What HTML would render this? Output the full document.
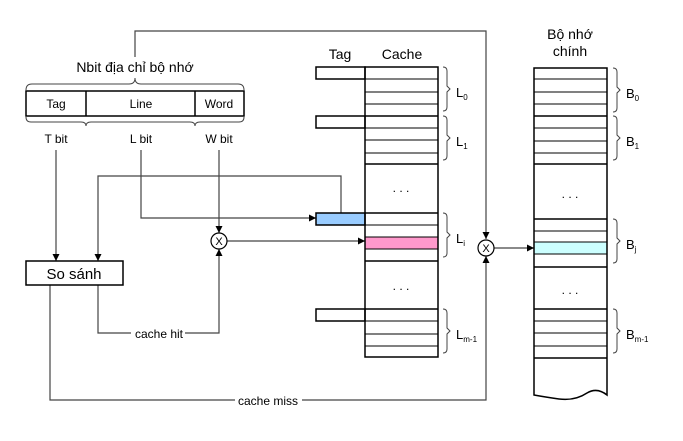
<!DOCTYPE html>
<html><head><meta charset="utf-8"><style>body{margin:0;background:#fff}svg{display:block}</style></head><body>
<svg width="683" height="441" viewBox="0 0 683 441" xmlns="http://www.w3.org/2000/svg" font-family="Liberation Sans, sans-serif">
<defs><marker id="a" viewBox="0 0 10 10" refX="10" refY="5" markerWidth="7" markerHeight="7" orient="auto-start-reverse" markerUnits="userSpaceOnUse"><path d="M0,0L10,5L0,10z" fill="#000"/></marker></defs>
<g fill="none" stroke="#444" stroke-width="1.2">
<polyline points="135,57 135,31 486,31 486,239" marker-end="url(#a)"/>
<line x1="56" y1="150" x2="56" y2="261" marker-end="url(#a)"/>
<polyline points="341,213 341,176 98,176 98,261" marker-end="url(#a)"/>
<polyline points="141,150 141,218 316,218" marker-end="url(#a)"/>
<line x1="219" y1="150" x2="219" y2="233" marker-end="url(#a)"/>
<line x1="227" y1="241" x2="365" y2="241" marker-end="url(#a)"/>
<polyline points="98,285 98,333 219,333 219,249" marker-end="url(#a)"/>
<polyline points="50,285 50,400 486,400 486,256" marker-end="url(#a)"/>
<line x1="494" y1="248" x2="534" y2="248" marker-end="url(#a)"/>
</g>
<rect x="131" y="326" width="54" height="14" fill="#fff"/>
<text x="159" y="338" font-size="12" text-anchor="middle">cache hit</text>
<rect x="235" y="393" width="67" height="14" fill="#fff"/>
<text x="268" y="405" font-size="12" text-anchor="middle">cache miss</text>
<g fill="#fff" stroke="#000" stroke-width="1.2">
<circle cx="219" cy="241" r="8"/><circle cx="486" cy="248" r="8"/>
</g>
<text x="219" y="245" font-size="11" text-anchor="middle">X</text>
<text x="486" y="252" font-size="11" text-anchor="middle">X</text>
<text x="135" y="72" font-size="14" text-anchor="middle">Nbit địa chỉ bộ nhớ</text>
<rect x="26" y="91" width="218" height="25" fill="#fff" stroke="#000" stroke-width="1.5"/>
<g stroke="#000" stroke-width="1.5"><line x1="86" y1="91" x2="86" y2="116"/><line x1="195" y1="91" x2="195" y2="116"/></g>
<g font-size="12" text-anchor="middle"><text x="56" y="108">Tag</text><text x="141" y="108">Line</text><text x="219" y="108">Word</text>
<text x="56" y="143">T bit</text><text x="141" y="143">L bit</text><text x="219" y="143">W bit</text></g>
<g fill="none" stroke="#444" stroke-width="1">
<path d="M26,90 q0,-6 6,-6 h97 q6,0 6,-6 q0,6 6,6 h97 q6,0 6,6"/>
<path d="M26,117 q0,5 5,5 h50 q5,0 5,4 q0,-4 5,-4 h99 q5,0 5,4 q0,-4 5,-4 h39 q5,0 5,-5"/>
</g>
<rect x="26" y="261" width="97" height="24" fill="#fff" stroke="#000" stroke-width="1.5"/>
<text x="74" y="279" font-size="15" text-anchor="middle">So sánh</text>
<text x="340" y="59" font-size="14" text-anchor="middle">Tag</text>
<text x="402" y="59" font-size="14" text-anchor="middle">Cache</text>
<rect x="316" y="213" width="49" height="12" fill="#99ccff"/>
<rect x="365" y="237" width="73" height="12" fill="#ff99cc"/>
<g fill="none" stroke="#000" stroke-width="1.5">
<rect x="365" y="67" width="73" height="290"/>
<rect x="316" y="67" width="49" height="12"/><rect x="316" y="116" width="49" height="12"/><rect x="316" y="213" width="49" height="12"/><rect x="316" y="309" width="49" height="12"/>
</g>
<g stroke="#000" stroke-width="1">
<line x1="365" x2="438" y1="79" y2="79"/><line x1="365" x2="438" y1="92" y2="92"/><line x1="365" x2="438" y1="104" y2="104"/>
<line x1="365" x2="438" y1="116" y2="116" stroke-width="1.5"/><line x1="365" x2="438" y1="128" y2="128"/><line x1="365" x2="438" y1="140" y2="140"/><line x1="365" x2="438" y1="153" y2="153"/><line x1="365" x2="438" y1="164" y2="164" stroke-width="1.5"/>
<line x1="365" x2="438" y1="213" y2="213" stroke-width="1.5"/><line x1="365" x2="438" y1="225" y2="225"/><line x1="365" x2="438" y1="237" y2="237"/><line x1="365" x2="438" y1="249" y2="249"/><line x1="365" x2="438" y1="261" y2="261" stroke-width="1.5"/>
<line x1="365" x2="438" y1="309" y2="309" stroke-width="1.5"/><line x1="365" x2="438" y1="321" y2="321"/><line x1="365" x2="438" y1="334" y2="334"/><line x1="365" x2="438" y1="346" y2="346"/>
</g>
<g font-size="12" text-anchor="middle"><text x="401" y="192">. . .</text><text x="401" y="290">. . .</text><text x="570" y="198">. . .</text><text x="570" y="294">. . .</text></g>
<g fill="none" stroke="#444" stroke-width="1">
<path d="M443,67 q4,0 4,4 v15 l3,3 l-3,3 v15 q0,4 -4,4"/>
<path d="M443,116 q4,0 4,4 v15 l3,3 l-3,3 v15 q0,4 -4,4"/>
<path d="M443,213 q4,0 4,4 v15 l3,3 l-3,3 v15 q0,4 -4,4"/>
<path d="M443,309 q4,0 4,4 v15 l3,3 l-3,3 v15 q0,4 -4,4"/>
<path d="M613,68 q4,0 4,4 v15 l3,3 l-3,3 v15 q0,4 -4,4"/>
<path d="M613,116 q4,0 4,4 v15 l3,3 l-3,3 v15 q0,4 -4,4"/>
<path d="M613,219 q4,0 4,4 v15 l3,3 l-3,3 v15 q0,4 -4,4"/>
<path d="M613,309 q4,0 4,4 v15 l3,3 l-3,3 v15 q0,4 -4,4"/>
</g>
<g font-size="13">
<text x="456" y="97">L<tspan font-size="8" dy="3">0</tspan></text>
<text x="456" y="146">L<tspan font-size="8" dy="3">1</tspan></text>
<text x="456" y="243">L<tspan font-size="8" dy="3">i</tspan></text>
<text x="456" y="339">L<tspan font-size="8" dy="3">m-1</tspan></text>
<text x="626" y="98">B<tspan font-size="8" dy="3">0</tspan></text>
<text x="626" y="146">B<tspan font-size="8" dy="3">1</tspan></text>
<text x="626" y="249">B<tspan font-size="8" dy="3">j</tspan></text>
<text x="626" y="339">B<tspan font-size="8" dy="3">m-1</tspan></text>
</g>
<text x="570" y="39" font-size="14" text-anchor="middle">Bộ nhớ</text>
<text x="570" y="56" font-size="14" text-anchor="middle">chính</text>
<rect x="534" y="242" width="73" height="12" fill="#ccffff"/>
<path d="M534,68 H607 V395 q-10,-8 -20,-2 q-12,8 -28,6 q-14,-2 -25,-4 Z" fill="none" stroke="#000" stroke-width="1.5"/>
<g stroke="#000" stroke-width="1">
<line x1="534" x2="607" y1="79" y2="79"/><line x1="534" x2="607" y1="92" y2="92"/><line x1="534" x2="607" y1="104" y2="104"/>
<line x1="534" x2="607" y1="116" y2="116" stroke-width="1.5"/><line x1="534" x2="607" y1="128" y2="128"/><line x1="534" x2="607" y1="141" y2="141"/><line x1="534" x2="607" y1="153" y2="153"/><line x1="534" x2="607" y1="164" y2="164" stroke-width="1.5"/>
<line x1="534" x2="607" y1="219" y2="219" stroke-width="1.5"/><line x1="534" x2="607" y1="231" y2="231"/><line x1="534" x2="607" y1="242" y2="242"/><line x1="534" x2="607" y1="254" y2="254"/><line x1="534" x2="607" y1="267" y2="267" stroke-width="1.5"/>
<line x1="534" x2="607" y1="309" y2="309" stroke-width="1.5"/><line x1="534" x2="607" y1="321" y2="321"/><line x1="534" x2="607" y1="333" y2="333"/><line x1="534" x2="607" y1="346" y2="346"/><line x1="534" x2="607" y1="358" y2="358" stroke-width="1.5"/>
</g>
</svg>
</body></html>
